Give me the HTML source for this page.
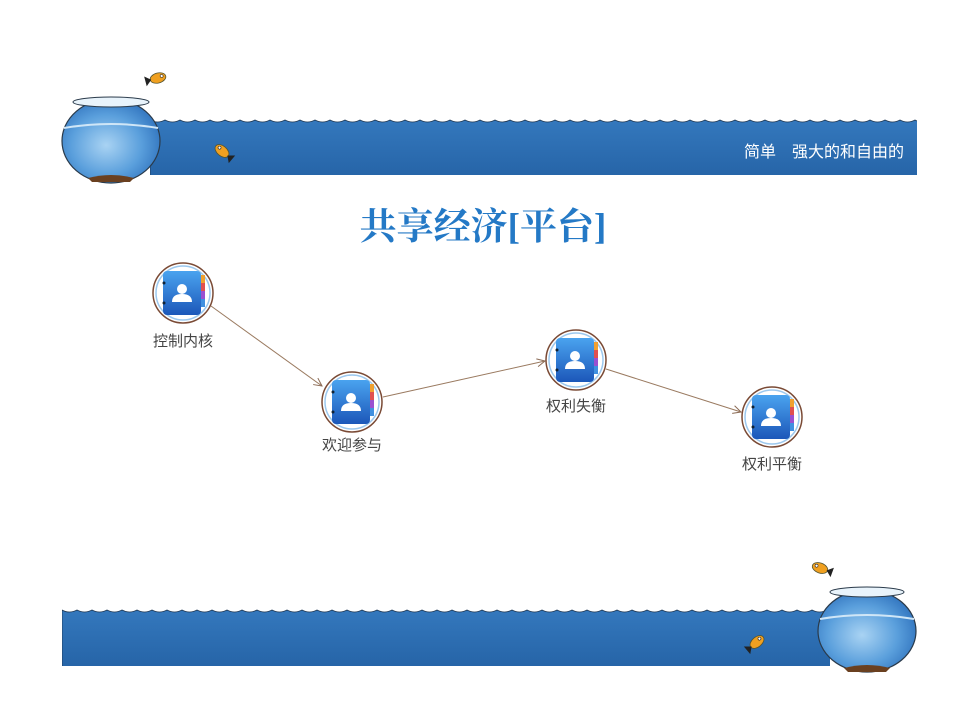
<!DOCTYPE html>
<html><head><meta charset="utf-8"><style>
body{margin:0;background:#fff;}
svg{display:block;}
</style></head><body>
<svg width="960" height="720" viewBox="0 0 960 720" xmlns="http://www.w3.org/2000/svg">
<defs>
<linearGradient id="band" x1="0" y1="0" x2="0" y2="1"><stop offset="0" stop-color="#3478bd"/><stop offset="1" stop-color="#2563a6"/></linearGradient>
<radialGradient id="bowl" cx="0.45" cy="0.55" r="0.6"><stop offset="0" stop-color="#a9d3f3"/><stop offset="0.6" stop-color="#5a9fdc"/><stop offset="1" stop-color="#2f72bd"/></radialGradient>
<linearGradient id="icon" x1="0" y1="0" x2="0" y2="1"><stop offset="0" stop-color="#4aa3ef"/><stop offset="1" stop-color="#1c57b9"/></linearGradient>
<marker id="ar" markerWidth="10" markerHeight="10" refX="9" refY="5" orient="auto" markerUnits="userSpaceOnUse"><path d="M1,1 L9,5 L1,9" fill="none" stroke="#8a6a55" stroke-width="1"/></marker>
<clipPath id="c1"><rect x="150" y="100" width="767" height="75"/></clipPath>
<clipPath id="c2"><rect x="62" y="590" width="768" height="76"/></clipPath>
<g id="node">
<circle r="30" fill="#fff" stroke="#7a4a35" stroke-width="1.5"/>
<circle r="27" fill="#fff" stroke="#9cc8ee" stroke-width="1.5"/>
<rect x="-20" y="-22" width="38" height="44" rx="4" fill="url(#icon)"/>
<rect x="18" y="-18" width="4" height="8" fill="#f0a030"/>
<rect x="18" y="-10" width="4" height="8" fill="#e05050"/>
<rect x="18" y="-2" width="4" height="8" fill="#9a50d0"/>
<rect x="18" y="6" width="4" height="8" fill="#4090e0"/>
<circle cx="-1" cy="-4" r="5" fill="#fff"/>
<path d="M-11,9 Q-11,1 -1,1 Q9,1 9,9 Z" fill="#fff"/>
<circle cx="-19" cy="-10" r="1.5" fill="#123"/><circle cx="-19" cy="10" r="1.5" fill="#123"/>
</g>
<g id="fish">
<ellipse cx="0" cy="0" rx="8" ry="5" fill="#f0a020" stroke="#553" stroke-width="0.8"/>
<path d="M7,0 L13,-5 L13,5 Z" fill="#222"/>
<circle cx="-4" cy="-1" r="1.5" fill="#fff" stroke="#222" stroke-width="0.6"/>
</g>
<path id="wv" d="M0,0 q7.5,4 15,0 q7.5,4 15,0 q7.5,4 15,0 q7.5,4 15,0 q7.5,4 15,0 q7.5,4 15,0 q7.5,4 15,0 q7.5,4 15,0 q7.5,4 15,0 q7.5,4 15,0 q7.5,4 15,0 q7.5,4 15,0 q7.5,4 15,0 q7.5,4 15,0 q7.5,4 15,0 q7.5,4 15,0 q7.5,4 15,0 q7.5,4 15,0 q7.5,4 15,0 q7.5,4 15,0 q7.5,4 15,0 q7.5,4 15,0 q7.5,4 15,0 q7.5,4 15,0 q7.5,4 15,0 q7.5,4 15,0 q7.5,4 15,0 q7.5,4 15,0 q7.5,4 15,0 q7.5,4 15,0 q7.5,4 15,0 q7.5,4 15,0 q7.5,4 15,0 q7.5,4 15,0 q7.5,4 15,0 q7.5,4 15,0 q7.5,4 15,0 q7.5,4 15,0 q7.5,4 15,0 q7.5,4 15,0 q7.5,4 15,0 q7.5,4 15,0 q7.5,4 15,0 q7.5,4 15,0 q7.5,4 15,0 q7.5,4 15,0 q7.5,4 15,0 q7.5,4 15,0 q7.5,4 15,0 q7.5,4 15,0 q7.5,4 15,0 q7.5,4 15,0 q7.5,4 15,0 q7.5,4 15,0 q7.5,4 15,0 L825,0 L825,60 L0,60 Z"/>
</defs>

<!-- top band -->
<g clip-path="url(#c1)"><use href="#wv" x="150" y="120" fill="url(#band)" stroke="#1d3550" stroke-width="0.8"/></g>
<ellipse cx="111" cy="141" rx="49" ry="42" fill="url(#bowl)" stroke="#2a3a4a" stroke-width="1.2"/>
<ellipse cx="111" cy="102" rx="38" ry="5" fill="#e8f3fb" stroke="#2a3a4a" stroke-width="1"/>
<path d="M64,128 Q111,120 158,128" fill="none" stroke="#cfe6f7" stroke-width="2"/>
<path d="M88,178 Q111,172 134,178 L130,182 L92,182 Z" fill="#6a4020"/>
<g transform="translate(158,78) rotate(-15)"><use href="#fish" transform="scale(-1,1)"/></g>
<g transform="translate(222,151) rotate(40)"><use href="#fish"/></g>
<text x="824" y="157" font-family="Liberation Sans, 'Noto Sans CJK SC', sans-serif" font-size="16" fill="#fff" text-anchor="middle">简单　强大的和自由的</text>

<!-- bottom band -->
<g clip-path="url(#c2)"><use href="#wv" x="62" y="610" fill="url(#band)" stroke="#1d3550" stroke-width="0.8"/></g>
<ellipse cx="867" cy="631" rx="49" ry="41" fill="url(#bowl)" stroke="#2a3a4a" stroke-width="1.2"/>
<ellipse cx="867" cy="592" rx="37" ry="5" fill="#e8f3fb" stroke="#2a3a4a" stroke-width="1"/>
<path d="M820,619 Q867,611 914,619" fill="none" stroke="#cfe6f7" stroke-width="2"/>
<path d="M844,668 Q867,662 890,668 L886,672 L848,672 Z" fill="#6a4020"/>
<g transform="translate(820,568) rotate(20)"><use href="#fish"/></g>
<g transform="translate(757,642) rotate(-40)"><use href="#fish" transform="scale(-1,1)"/></g>

<!-- title -->
<text x="483" y="239" font-family="'Liberation Serif','Noto Serif CJK SC',serif" font-size="37" font-weight="bold" fill="#2479c6" text-anchor="middle">共享经济[平台]</text>

<!-- connectors -->
<line x1="211" y1="306" x2="322" y2="386" stroke="#9a7a60" stroke-width="1" marker-end="url(#ar)"/>
<line x1="383" y1="397" x2="545" y2="361" stroke="#9a7a60" stroke-width="1" marker-end="url(#ar)"/>
<line x1="606" y1="369" x2="741" y2="412" stroke="#9a7a60" stroke-width="1" marker-end="url(#ar)"/>

<!-- nodes -->
<use href="#node" x="183" y="293"/>
<use href="#node" x="352" y="402"/>
<use href="#node" x="576" y="360"/>
<use href="#node" x="772" y="417"/>
<g font-family="'Liberation Sans','Noto Sans CJK SC',sans-serif" font-size="15" fill="#444" text-anchor="middle">
<text x="183" y="346">控制内核</text>
<text x="352" y="450">欢迎参与</text>
<text x="576" y="411">权利失衡</text>
<text x="772" y="469">权利平衡</text>
</g>
</svg>
</body></html>
